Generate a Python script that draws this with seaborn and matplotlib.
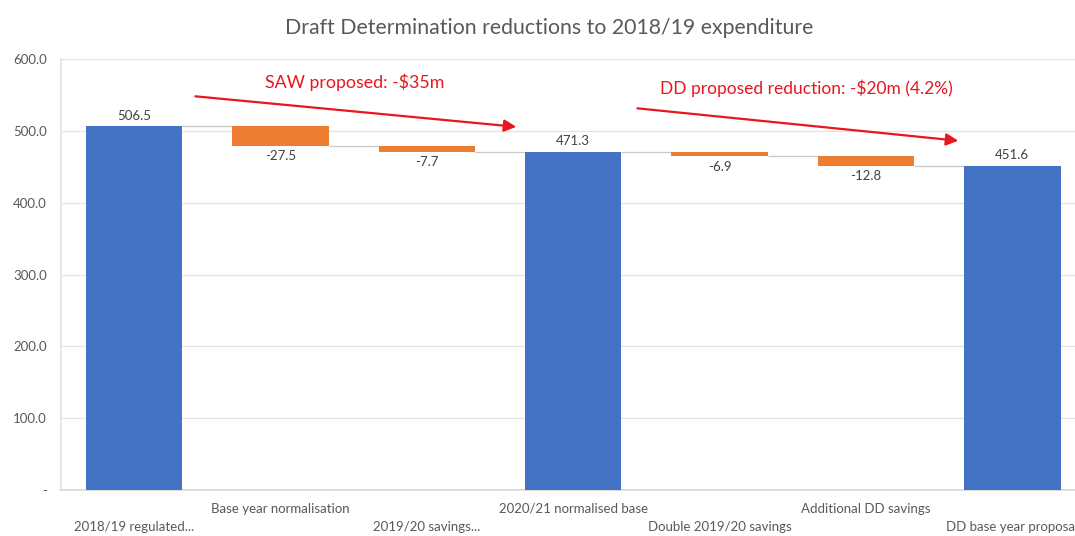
import matplotlib
matplotlib.use("Agg")
import matplotlib.pyplot as plt
import seaborn as sns
import numpy as np

# Waterfall steps (A$m)
categories = [
    "2018/19 regulated...",
    "Base year normalisation",
    "2019/20 savings...",
    "2020/21 normalised base",
    "Double 2019/20 savings",
    "Additional DD savings",
    "DD base year proposal",
]
values = [506.5, -27.5, -7.7, 471.3, -6.9, -12.8, 451.6]
is_total = [True, False, False, True, False, False, True]

title = "Draft Determination reductions to 2018/19 expenditure"
note_saw = "SAW proposed: -$35m"
note_dd = "DD proposed reduction: -$20m (4.2%)"

BLUE = "#4472C4"
ORANGE = "#ED7D31"
RED = "#E8161E"
GREY_TXT = "#595959"

# running totals: each bar starts where the previous one ended
bottoms, heights, ends = [], [], []
level = 0.0
for v, tot in zip(values, is_total):
    if tot:
        bottoms.append(0.0)
        heights.append(v)
        level = v
    else:
        bottoms.append(level)
        heights.append(v)
        level = level + v
    ends.append(level)

sns.set_theme(style="white")
plt.rcParams["font.family"] = ["Lato", "DejaVu Sans"]

fig = plt.figure(figsize=(10.75, 5.36), dpi=100)
ax = fig.add_axes([0.0567, 0.0858, 0.953, 0.804])

bar_w = 0.66
sns.barplot(x=categories, y=heights, bottom=bottoms, color=BLUE,
            width=bar_w, saturation=1, ax=ax, zorder=3)
for p, tot in zip(ax.patches, is_total):
    p.set_facecolor(BLUE if tot else ORANGE)
    p.set_edgecolor("none")

# value labels (below the bar for reductions, above for totals)
container = ax.containers[0]
ax.bar_label(container, labels=[f"{v:.1f}" for v in values], padding=3,
             fontsize=9.5, color="#404040")

# connector lines between consecutive bars
for i in range(len(values) - 1):
    ax.hlines(ends[i], i + bar_w / 2, i + 1 - bar_w / 2,
              color="#C8C8C8", lw=0.9, zorder=2)

ax.set_ylim(0, 600)
ax.set_xlim(-0.5, len(categories) - 0.5)
yt = np.arange(0, 601, 100)
ax.set_yticks(yt)
ax.set_yticklabels(["-" if t == 0 else f"{t:.1f}" for t in yt],
                   fontsize=9.5, color=GREY_TXT)
ax.tick_params(axis="y", length=0, pad=10)
ax.tick_params(axis="x", length=0, labelsize=9.5, labelcolor=GREY_TXT)
ax.yaxis.grid(True, color="#E3E3E3", lw=0.9, zorder=0)
ax.set_axisbelow(True)
for s in ["top", "right"]:
    ax.spines[s].set_visible(False)
ax.spines["left"].set_color("#E3E3E3")
ax.spines["bottom"].set_color("#D9D9D9")

# staggered category labels
for i, tick in enumerate(ax.xaxis.get_major_ticks()):
    tick.set_pad(9 if i % 2 == 1 else 22)

fig.text(0.511, 0.947, title, ha="center", va="center", fontsize=15.3, color=GREY_TXT)

# red annotation arrows
arrow_kw = dict(arrowstyle="-|>,head_length=0.6,head_width=0.3", color=RED, lw=1.6)
ax.annotate("", xy=(2.63, 505.3), xytext=(0.40, 548.5), arrowprops=arrow_kw, zorder=5)
ax.annotate("", xy=(5.65, 485.9), xytext=(3.42, 531.8), arrowprops=arrow_kw, zorder=5)
ax.text(1.51, 568, note_saw, ha="center", va="center", fontsize=12.8, color=RED)
ax.text(4.59, 559.7, note_dd, ha="center", va="center", fontsize=12.5, color=RED)

ax.set_xlabel("")
ax.set_ylabel("")
fig.savefig("out.png", dpi=100)
